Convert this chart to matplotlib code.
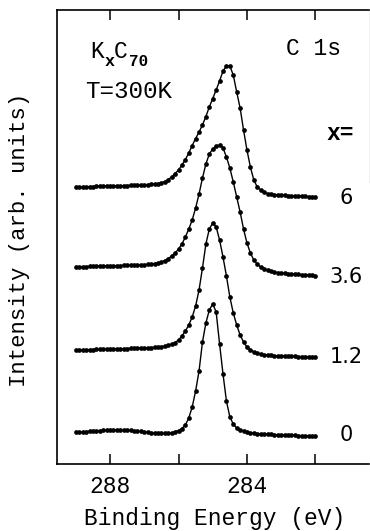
"""
C 1s photoemission spectra of KxC70 at T=300K, stacked for several x.
"""

import numpy as np
import matplotlib
matplotlib.use('Agg')
import matplotlib.pyplot as plt

# binding energy grid (eV), 0.1 eV steps from 289 down to 282
energy = np.linspace(289.0, 282.0, 71)

# intensities (arb. units) above each curve's own baseline
int_x0 = [0, 0.1, 0.3, 0.5, 0.7, 1.0, 1.2, 1.5, 1.7, 1.9,
          2.0, 2.0, 2.1, 2.1, 2.0, 2.0, 1.7, 1.4, 1.0, 0.6,
          0.2, -0.3, -0.7, -1.0, -1.2, -1.3, -1.4, -1.3, -0.8, 0.3,
          1.5, 3.5, 7, 14, 25, 41, 61, 90, 109, 122,
          128, 120, 88, 58, 31, 15, 8, 4, 2, 1,
          0, -0.8, -1.2, -1.5, -1.8, -2.0, -2.2, -2.4, -2.6, -2.8,
          -3.0, -3.1, -3.2, -3.3, -3.4, -3.5, -3.6, -3.7, -3.8, -3.9,
          -4.0]
int_x12 = [0, 0.1, 0.2, 0.3, 0.4, 0.5, 0.6, 0.7, 0.8, 0.9,
           1.0, 1.1, 1.2, 1.3, 1.4, 1.5, 1.6, 1.7, 1.8, 1.9,
           2.0, 2.2, 2.4, 2.7, 3.0, 3.4, 4.0, 4.8, 6.0, 7.5,
           10, 14, 19, 25, 33, 44, 60, 82, 106, 121,
           127, 123, 110, 93, 74, 53, 37, 25, 15, 8,
           3, 0, -2, -3, -4, -4.6, -5, -5.3, -5.6, -5.8,
           -6.0, -6.1, -6.2, -6.3, -6.4, -6.5, -6.5, -6.6, -6.6, -6.7,
           -6.7]
int_x36 = [0, 0.15, 0.3, 0.45, 0.6, 0.7, 0.8, 0.9, 1.0, 1.1,
           1.2, 1.3, 1.4, 1.5, 1.6, 1.7, 1.8, 1.9, 2.0, 2.15,
           2.3, 2.6, 3.0, 3.5, 4.2, 5.0, 6.5, 8.5, 11, 14,
           18, 23, 30, 38, 47, 59, 73, 89, 103, 113,
           118, 121, 122, 119, 110, 99, 85, 70, 55, 38,
           24, 14, 7, 3, 0, -1.5, -3, -4, -5, -5.5,
           -6, -6.3, -6.6, -6.9, -7.1, -7.3, -7.6, -7.8, -8.0, -8.3,
           -8.5]
int_x6 = [0, 0.1, 0.2, 0.3, 0.4, 0.5, 0.6, 0.7, 0.8, 0.9,
          1.0, 1.1, 1.2, 1.3, 1.4, 1.5, 1.6, 1.75, 1.9, 2.05,
          2.2, 2.5, 2.8, 3.1, 3.5, 4.2, 5.5, 7.5, 10, 13.5,
          17, 22, 27.5, 34, 41.5, 48.5, 55, 62, 70.5, 80,
          88.5, 97, 106, 116, 121, 121, 112, 95, 79, 57,
          37, 20, 7, 0, -3, -5, -6.5, -7, -7.5, -7.8,
          -8, -8.2, -8.5, -8.7, -9, -9.1, -9.3, -9.4, -9.5, -9.6,
          -9.7]

spectra = [int_x0, int_x12, int_x36, int_x6]
x_labels = ['0', '1.2', '3.6', '6']
offsets = [32, 114, 197, 277]

W, H = 370, 531
fig = plt.figure(figsize=(W / 100, H / 100), dpi=100)
ax = fig.add_axes([57 / W, (H - 464) / H, (369.5 - 57) / W, (464 - 10) / H])

for vals, off in zip(spectra, offsets):
    ax.plot(energy, off + np.array(vals), color='black', linewidth=1.0,
            marker='o', markersize=3.4, markeredgewidth=0, markerfacecolor='black')

ax.set_xlim(289.55, 280.42)
ax.set_ylim(0, 454)

mono = 'Liberation Mono'
ax.set_xticks([288, 286, 284, 282])
ax.set_xticklabels(['288', '', '284', ''], fontfamily=mono, fontsize=16.5)
ax.set_yticks([])
ax.tick_params(axis='x', direction='in', length=7, width=1.1, top=True, pad=8)
for side in ['left', 'bottom', 'top']:
    ax.spines[side].set_linewidth(1.2)
# only the upper part of the right frame survives in the original scan
ax.spines['right'].set_linewidth(0.8)
ax.spines['right'].set_bounds(282, 454)

ax.set_xlabel('Binding Energy (eV)', fontfamily=mono, fontsize=16.5)
ax.xaxis.set_label_coords((215 - 57) / (369.5 - 57), -(507 - 464) / 454)
ax.set_ylabel('Intensity (arb. units)', fontfamily=mono, fontsize=16)
ax.yaxis.set_label_coords(-(57 - 30) / (369.5 - 57), (464 - 240) / 454)

def ftext(x, y, s, **kw):
    fig.text(x / W, 1 - y / H, s, ha='center', va='center', **kw)

ftext(97, 51, 'K', fontfamily=mono, fontsize=16.5)
ftext(110, 62, 'x', fontfamily=mono, fontsize=12, fontweight='bold')
ftext(121, 51, 'C', fontfamily=mono, fontsize=16.5)
ftext(139, 61, '70', fontfamily=mono, fontsize=11.5, fontweight='bold')
ftext(129, 92, 'T=300K', fontfamily=mono, fontsize=17.5)
ftext(313, 48, 'C 1s', fontfamily=mono, fontsize=16.5)
ftext(340, 133, 'x=', fontfamily=mono, fontsize=16.5, fontweight='bold')

label_y = [435, 357, 277, 198]
for lab, y in zip(x_labels, label_y):
    ftext(346, y, lab, fontfamily='DejaVu Sans', fontsize=15)

fig.savefig('out.png', dpi=100)
